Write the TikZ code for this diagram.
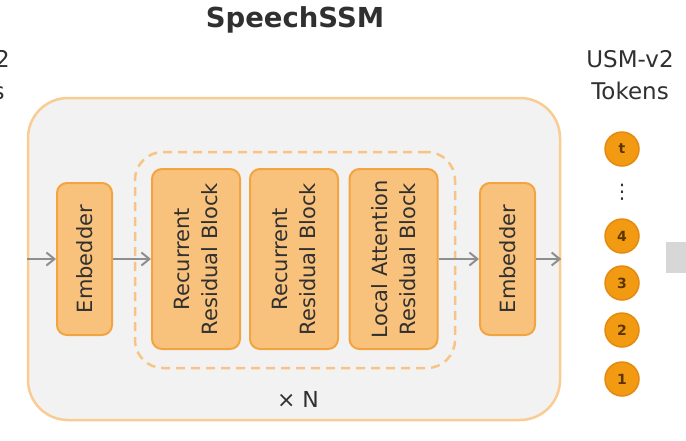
\documentclass[tikz,border=0pt]{standalone}
\usepackage{fontspec}
\setmainfont{DejaVu Sans}
\usetikzlibrary{arrows.meta}
\definecolor{outerfill}{HTML}{F2F2F2}
\definecolor{outerdraw}{HTML}{F8CC92}
\definecolor{dashdraw}{HTML}{F7C485}
\definecolor{blockfill}{HTML}{F9C27C}
\definecolor{blockdraw}{HTML}{F2A440}
\definecolor{tokfill}{HTML}{F29A12}
\definecolor{tokdraw}{HTML}{E58A10}
\definecolor{tokt}{HTML}{5A3500}
\definecolor{txt}{HTML}{303030}
\definecolor{arrgray}{HTML}{8E8E8E}
\definecolor{sidegray}{HTML}{D7D7D7}
\tikzset{
  blockbox/.style={draw=blockdraw, fill=blockfill, line width=2pt, rounded corners=10pt,
    rotate=90, align=center, font=\fontsize{21}{28}\selectfont, text=txt, inner sep=0pt},
  tokc/.style={circle, fill=tokfill, draw=tokdraw, line width=1.5pt, minimum size=34pt,
    inner sep=0pt, font=\fontsize{14}{14}\selectfont\bfseries, text=tokt},
  arr/.style={draw=arrgray, line width=2pt, -{Straight Barb[length=8pt,width=13pt,line width=2pt]}},
  lbl/.style={align=center, text=txt, font=\fontsize{23}{32}\selectfont, inner sep=0pt}
}
\begin{document}
\begin{tikzpicture}[x=1pt,y=-1pt]
\useasboundingbox (0,0) rectangle (686,440);
\clip (0,0) rectangle (686,440);
% title
\node[anchor=base, text=txt, font=\fontsize{27.5}{30}\selectfont\bfseries, inner sep=0pt] (title) at (295,27) {SpeechSSM};
% outer box
\node[draw=outerdraw, fill=outerfill, line width=2.5pt, rounded corners=40pt,
  minimum width=532pt, minimum height=322pt, inner sep=0pt] (outer) at (294,259) {};
% repeated group
\node[draw=dashdraw, line width=2.5pt, dash pattern=on 9pt off 6pt, rounded corners=28pt,
  minimum width=320pt, minimum height=216pt, inner sep=0pt] (rep) at (295,260) {};
% blocks
\node[blockbox, minimum width=152pt, minimum height=55pt] (emb1) at (84.5,259) {Embedder};
\node[blockbox, minimum width=180pt, minimum height=88pt] (rec1) at (196,259) {Recurrent\\Residual Block};
\node[blockbox, minimum width=180pt, minimum height=88pt] (rec2) at (294,259) {Recurrent\\Residual Block};
\node[blockbox, minimum width=180pt, minimum height=88pt] (loc) at (393.5,259) {Local Attention\\Residual Block};
\node[blockbox, minimum width=152pt, minimum height=55pt] (emb2) at (507.5,259) {Embedder};
% N label
\node[anchor=base, text=txt, font=\fontsize{22}{24}\selectfont, inner sep=0pt] (times) at (298,407) {× N};
% arrows
\draw[arr] (outer.west) -- (emb1);
\draw[arr] (emb1) -- (rec1);
\draw[arr] (loc) -- (emb2);
\draw[arr] (emb2) -- (outer.east);
% token labels
\node[lbl, anchor=north] (toklbl) at (630,50) {USM-v2\\Tokens};
\node[lbl, anchor=north] (inlbl) at (-34,50) {USM-v2\\Tokens};
% tokens
\node[tokc] (tt) at (622,149) {t};
\node[inner sep=0pt, text=txt, font=\fontsize{20}{20}\selectfont] (dots) at (622,192) {⋮};
\node[tokc] (t4) at (622,236) {4};
\node[tokc] (t3) at (622,283) {3};
\node[tokc] (t2) at (622,330) {2};
\node[tokc] (t1) at (622,379) {1};
% side element
\fill[sidegray] (666,242) rectangle (700,273);
\end{tikzpicture}
\end{document}
